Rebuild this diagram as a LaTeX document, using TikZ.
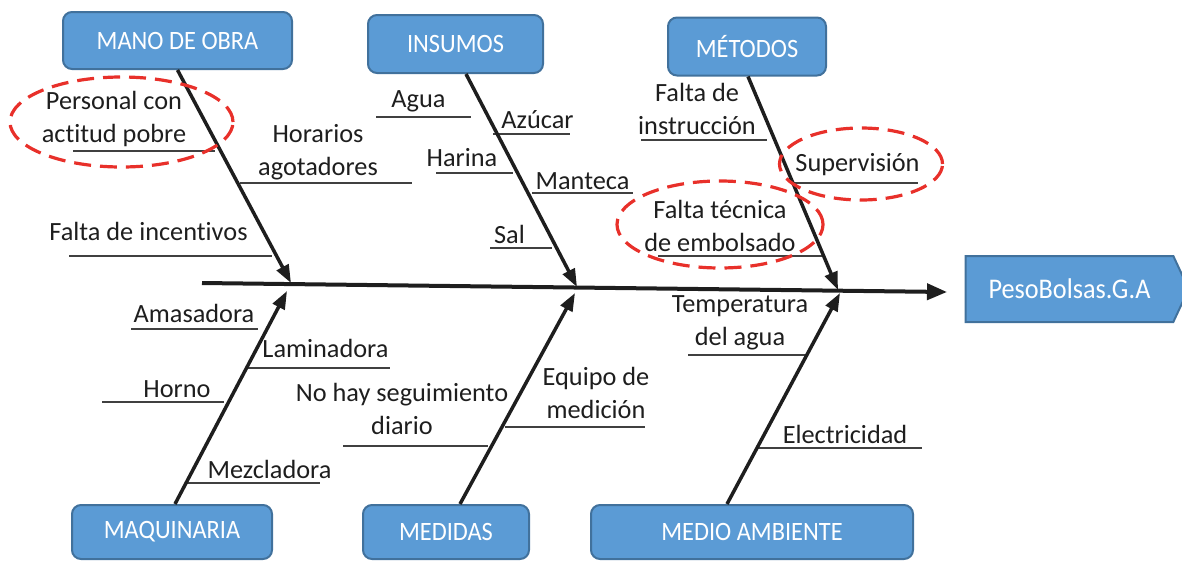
\documentclass[tikz,border=0pt]{standalone}
\usepackage{fontspec}
\setmainfont{Carlito}[Ligatures=NoCommon]
\newfontfamily\boxfont{Carlito}[FakeStretch=0.92]
\usetikzlibrary{arrows.meta,shapes.symbols}
\definecolor{boxblue}{HTML}{5B9BD5}
\definecolor{boxedge}{HTML}{41719C}
\definecolor{ovalred}{HTML}{E8302A}
\definecolor{ink}{HTML}{1E1E1E}
\begin{document}
\begin{tikzpicture}[x=1pt,y=-1pt,
  catbox/.style={draw=boxedge, fill=boxblue, line width=2pt, rounded corners=9pt,
    text=white, font=\boxfont\fontsize{26.5}{30}\selectfont, inner sep=0pt},
  effectbox/.style={shape=signal, signal to=east, signal pointer angle=130,
    draw=boxedge, fill=boxblue, line width=2pt, text=white,
    font=\boxfont\fontsize{28.5}{32}\selectfont, inner sep=0pt,
    minimum width=223pt, minimum height=66pt},
  lbl/.style={anchor=base, text=ink, font=\fontsize{26.3}{33}\selectfont, align=center, inner sep=0pt},
  uline/.style={draw=ink!85, line width=1.8pt},
  bone/.style={draw=ink, line width=3.5pt, -{Triangle[length=18pt,width=13pt]}},
  spine/.style={draw=ink, line width=4pt, -{Triangle[length=20pt,width=16pt]}},
  oval/.style={draw=ovalred, line width=3.2pt, dash pattern=on 17pt off 9pt}
]
\useasboundingbox (0,0) rectangle (1182,560);

% category boxes
\node[catbox, minimum width=229pt, minimum height=57pt] (mano) at (177.5,40.5) {MANO DE OBRA};
\node[catbox, minimum width=175pt, minimum height=58pt] (ins) at (455.5,44) {INSUMOS};
\node[catbox, minimum width=158pt, minimum height=58pt] (met) at (747,46.5) {MÉTODOS};
\node[catbox, minimum width=200pt, minimum height=54pt] (maq) at (172,532) {MAQUINARIA};
\node[catbox, minimum width=166pt, minimum height=54pt] (med) at (446,532) {MEDIDAS};
\node[catbox, minimum width=322pt, minimum height=54pt] (amb) at (752,532) {MEDIO AMBIENTE};
\node[effectbox] (effect) at (1069.5,289) {PesoBolsas.G.A};

% spine
\coordinate (spine-l) at (202,283);
\coordinate (spine-r) at (947,292);
\draw[spine] (spine-l) -- (spine-r);

% tips on the spine
\coordinate (t-mano) at (291,283);
\coordinate (t-ins) at (577,287);
\coordinate (t-met) at (838,290);
\coordinate (b-maq) at (287,291);
\coordinate (b-med) at (575,293);
\coordinate (b-amb) at (840,293);

% underlines
\draw[uline] (73,151) -- (215,151);
\draw[uline] (240,183) -- (412,183);
\draw[uline] (69,256) -- (272,256);
\draw[uline] (376,117) -- (471,117);
\draw[uline] (493,134) -- (570,134);
\draw[uline] (436,173) -- (513,173);
\draw[uline] (532,193) -- (633,193);
\draw[uline] (490,248) -- (552,248);
\draw[uline] (641,140) -- (767,140);
\draw[uline] (794,183) -- (918,183);
\draw[uline] (658,256) -- (822,256);
\draw[uline] (131,329) -- (258,329);
\draw[uline] (247,368) -- (390,368);
\draw[uline] (102,402) -- (224,402);
\draw[uline] (186,483) -- (320,483);
\draw[uline] (343,446) -- (488,446);
\draw[uline] (505,427) -- (645,427);
\draw[uline] (688,355) -- (805,355);
\draw[uline] (758,448) -- (922,448);

% bones
\draw[bone] (mano.south) -- (t-mano);
\draw[bone] ([xshift=10.5pt]ins.south) -- (t-ins);
\draw[bone] ([xshift=1pt]met.south) -- (t-met);
\draw[bone] ([xshift=3pt]maq.north) -- (b-maq);
\draw[bone] ([xshift=14pt]med.north) -- (b-med);
\draw[bone] ([xshift=-25pt]amb.north) -- (b-amb);

% labels (multi-line nodes: base = baseline of last line)
\node[lbl] (l1) at (114,142) {Personal con\\actitud pobre};
\node[lbl] (l2) at (318,175) {Horarios\\agotadores};
\node[lbl] (l3) at (148.5,240) {Falta de incentivos};
\node[lbl] (l4) at (418.5,107) {Agua};
\node[lbl] (l5) at (537.5,128) {Azúcar};
\node[lbl] (l6) at (462,166) {Harina};
\node[lbl] (l7) at (582.5,189) {Manteca};
\node[lbl] (l8) at (509.5,243) {Sal};
\node[lbl] (l9) at (697,134) {Falta de\\instrucción};
\node[lbl] (l10) at (857.5,171) {Supervisión};
\node[lbl] (l11) at (720,251) {Falta técnica\\de embolsado};
\node[lbl] (l12) at (194,322) {Amasadora};
\node[lbl] (l13) at (325.5,357) {Laminadora};
\node[lbl] (l14) at (177,397) {Horno};
\node[lbl] (l15) at (269.5,478) {Mezcladora};
\node[lbl] (l16) at (402,434) {No hay seguimiento\\diario};
\node[lbl] (l17) at (596,418) {Equipo de\\medición};
\node[lbl] (l18) at (740,345) {Temperatura\\del agua};
\node[lbl] (l19) at (845,443) {Electricidad};

% red dashed ovals
\draw[oval] (121.5,122) ellipse [x radius=111.5pt, y radius=45pt];
\draw[oval] (861,164) ellipse [x radius=81.5pt, y radius=36pt];
\draw[oval] (720,224.5) ellipse [x radius=103pt, y radius=43.5pt];
\end{tikzpicture}
\end{document}
